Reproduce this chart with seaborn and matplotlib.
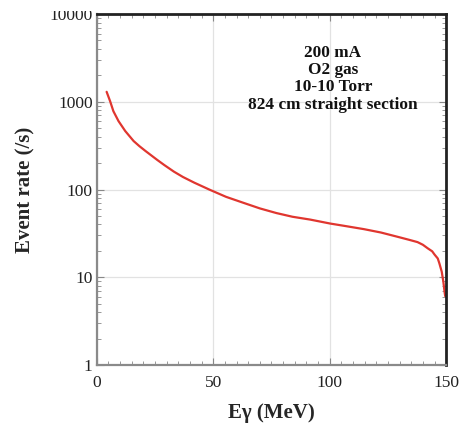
import numpy as np
import pandas as pd
import matplotlib
matplotlib.use("Agg")
import matplotlib.pyplot as plt
from matplotlib.patches import Rectangle
import seaborn as sns
from matplotlib.ticker import LogLocator, MultipleLocator, FixedLocator, NullFormatter

# Photon energy (MeV) and event rate (/s)
energy = [4.2, 5.7, 7.1, 9.3, 12.2, 15.8, 18.3, 20.9, 25.9, 29.0, 33.1, 37.0,
          41.8, 48.3, 55.5, 62.7, 70.0, 77.1, 84.0, 91.6, 100.2, 107.0,
          114.7, 122.0, 129.5, 134.0, 137.7, 140.0, 142.1, 144.0, 145.0,
          146.4, 147.1, 148.1, 148.8, 149.3, 149.6]
rate = [1300, 1015, 782, 603, 464, 357, 312, 275, 218, 190, 160, 139,
        120, 100, 82.6, 71, 61, 54, 49, 45.5, 41, 38.3,
        35.4, 32.4, 28.8, 26.8, 25.2, 23.5, 21.4, 19.8, 18.2,
        16.4, 14.4, 11.6, 8.9, 6.9, 6.1]

annotation_lines = ["200 mA", "O2 gas", "10-10 Torr", "824 cm straight section"]
x_ticks = [0, 50, 100, 150]
y_ticks = [1, 10, 100, 1000, 10000]

df = pd.DataFrame({"E": energy, "rate": rate})

sns.set_style("ticks")
plt.rcParams["font.family"] = ["Liberation Serif", "DejaVu Serif"]

fig = plt.figure(figsize=(4.59, 4.26), dpi=100)
ax = fig.add_axes([0.211, 0.143, 0.761, 0.824])

sns.lineplot(data=df, x="E", y="rate", ax=ax, color="#e0362f", linewidth=1.6)

ax.set_yscale("log")
ax.set_xlim(0, 150)
ax.set_ylim(1, 10000)

ax.xaxis.set_major_locator(FixedLocator(x_ticks))
ax.xaxis.set_minor_locator(MultipleLocator(5))
ax.yaxis.set_major_locator(FixedLocator(y_ticks))
ax.yaxis.set_minor_locator(LogLocator(base=10, subs=np.arange(2, 10)))
ax.yaxis.set_minor_formatter(NullFormatter())
ax.set_xticklabels([str(t) for t in x_ticks])
ax.set_yticklabels([str(t) for t in y_ticks])

ax.grid(True, which="major", color="#e2e2e2", linewidth=0.9)
ax.set_axisbelow(True)

ax.tick_params(which="both", direction="in", top=True, right=True,
               colors="#888888", labelcolor="#222222", labelsize=12.5)
ax.tick_params(which="major", length=5, width=0.8)
ax.tick_params(which="minor", length=3, width=0.6)
ax.tick_params(axis="x", pad=7)
ax.tick_params(axis="y", pad=3)

for side in ["left", "bottom"]:
    ax.spines[side].set_color("#8a8a8a")
    ax.spines[side].set_linewidth(1.6)
for side in ["top", "right"]:
    ax.spines[side].set_color("#222222")
    ax.spines[side].set_linewidth(2.0)

ax.set_xlabel("E\u03b3 (MeV)", fontsize=15, fontweight="bold", labelpad=9)
ax.set_ylabel("Event rate (/s)", fontsize=15, fontweight="bold", labelpad=10)

ax.text(0.676, 0.912, "\n".join(annotation_lines), transform=ax.transAxes,
        ha="center", va="top", fontsize=12.4, fontweight="bold",
        linespacing=1.1, color="#111111")

# top margin band trims the upper part of the highest tick label
fig.patches.append(Rectangle((0, 0.974), 1, 0.03, transform=fig.transFigure,
                             facecolor="white", edgecolor="none", zorder=10))

fig.savefig("out.png", dpi=100)
